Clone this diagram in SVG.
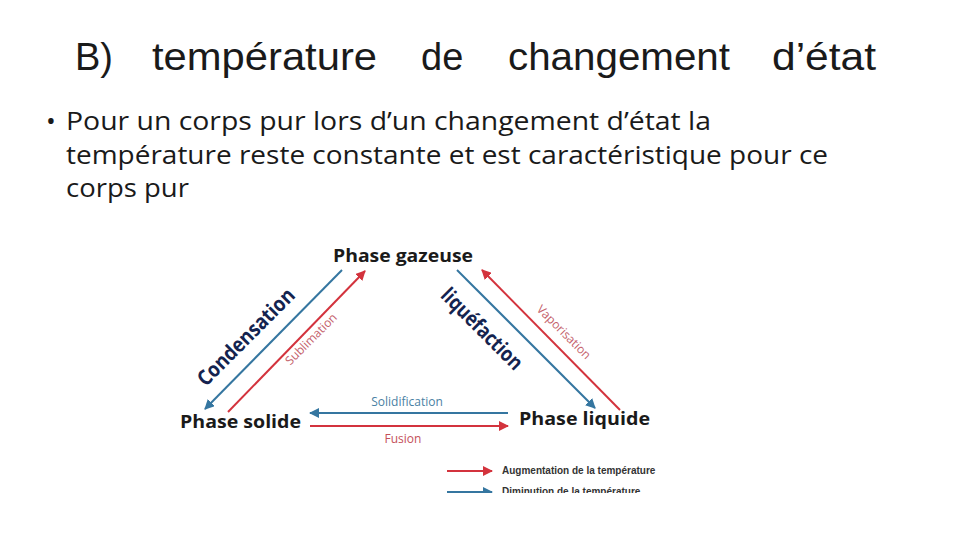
<svg xmlns="http://www.w3.org/2000/svg" width="960" height="540" viewBox="0 0 960 540">
<defs>
<style>
.title{font-family:"Liberation Sans","Open Sans",sans-serif;font-size:38px;fill:#1a1a1a;font-weight:300}
.body{font-family:"Open Sans","Liberation Sans",sans-serif;font-size:26px;fill:#1a1a1a}
.phase{font-family:"Open Sans","Liberation Sans",sans-serif;font-size:18px;font-weight:bold;fill:#1a1a1a}
.big{font-family:"Open Sans","Liberation Sans",sans-serif;font-size:21px;font-weight:bold;fill:#14234f}
.small{font-family:"Open Sans","Liberation Sans",sans-serif;font-size:12px}
.leg{font-family:"Liberation Sans",sans-serif;font-size:10px;font-weight:bold;fill:#333}
.blue{stroke:#3576a0;stroke-width:2;fill:none}
.red{stroke:#d3333d;stroke-width:2;fill:none}
</style>
<marker id="ab" viewBox="0 0 10 10" refX="9" refY="5" markerWidth="5" markerHeight="5" orient="auto"><path d="M0,0L10,5L0,10z" fill="#3576a0"/></marker>
<marker id="ar" viewBox="0 0 10 10" refX="9" refY="5" markerWidth="5" markerHeight="5" orient="auto"><path d="M0,0L10,5L0,10z" fill="#d3333d"/></marker>
<clipPath id="imgclip"><rect x="160" y="230" width="520" height="263"/></clipPath>
</defs>
<rect width="960" height="540" fill="#fff"/>
<g id="title">
<text class="title" x="75" y="70">B)</text>
<text class="title" x="152" y="70" textLength="225" lengthAdjust="spacingAndGlyphs">température</text>
<text class="title" x="421" y="70">de</text>
<text class="title" x="508" y="70" textLength="222" lengthAdjust="spacingAndGlyphs">changement</text>
<text class="title" x="772" y="70" textLength="104" lengthAdjust="spacingAndGlyphs">d’état</text>
</g>
<g id="bullet">
<text class="body" x="46" y="130">•</text>
<text class="body" x="66" y="130" textLength="645" lengthAdjust="spacingAndGlyphs">Pour un corps pur lors d’un  changement d’état la</text>
<text class="body" x="66" y="164" textLength="762" lengthAdjust="spacingAndGlyphs">température reste constante et est caractéristique pour ce</text>
<text class="body" x="66" y="197" textLength="123" lengthAdjust="spacingAndGlyphs">corps pur</text>
</g>
<g clip-path="url(#imgclip)">
<g id="connectors">
<line class="blue" x1="342" y1="270" x2="205" y2="409" marker-end="url(#ab)"/>
<line class="red" x1="228" y1="412" x2="365" y2="271" marker-end="url(#ar)"/>
<line class="blue" x1="457" y1="270" x2="595" y2="408" marker-end="url(#ab)"/>
<line class="red" x1="620" y1="410" x2="482" y2="270" marker-end="url(#ar)"/>
<line class="blue" x1="508" y1="413" x2="310" y2="413" marker-end="url(#ab)"/>
<line class="red" x1="310" y1="426" x2="508" y2="426" marker-end="url(#ar)"/>
</g>
<g id="gaz"><text class="phase" x="333" y="262" textLength="140" lengthAdjust="spacingAndGlyphs">Phase gazeuse</text></g>
<g id="solide"><text class="phase" x="180" y="428" textLength="121" lengthAdjust="spacingAndGlyphs">Phase solide</text></g>
<g id="liquide"><text class="phase" x="519" y="425" textLength="131" lengthAdjust="spacingAndGlyphs">Phase liquide</text></g>
<g id="labels">
<text class="big" transform="translate(251,342) rotate(-45)" text-anchor="middle" textLength="128" lengthAdjust="spacingAndGlyphs">Condensation</text>
<text class="small" fill="#c4606a" transform="translate(314,342) rotate(-45)" text-anchor="middle">Sublimation</text>
<text class="big" transform="translate(477,334) rotate(45)" text-anchor="middle" textLength="106" lengthAdjust="spacingAndGlyphs">liquéfaction</text>
<text class="small" fill="#c4606a" transform="translate(561,335) rotate(45)" text-anchor="middle">Vaporisation</text>
<text class="small" fill="#4a7fa3" x="407" y="406" text-anchor="middle">Solidification</text>
<text class="small" fill="#c4505a" x="403" y="443" text-anchor="middle">Fusion</text>
</g>
<g id="legend">
<line class="red" x1="447" y1="471" x2="492" y2="471" marker-end="url(#ar)"/>
<text class="leg" x="502" y="474">Augmentation de la température</text>
<line class="blue" x1="447" y1="492" x2="492" y2="492" marker-end="url(#ab)"/>
<text class="leg" x="502" y="495">Diminution de la température</text>
</g>
</g>
</svg>
